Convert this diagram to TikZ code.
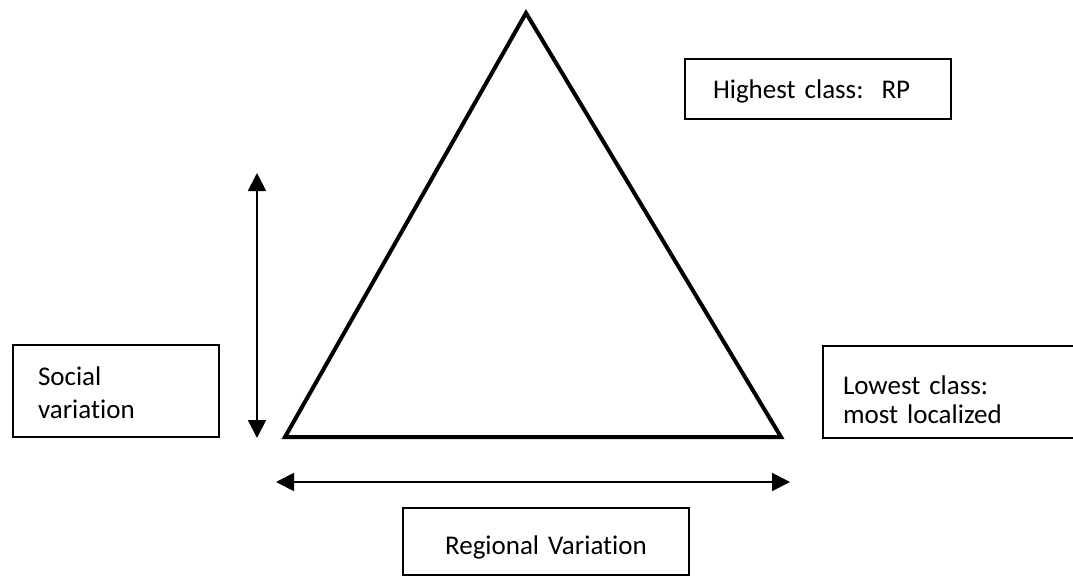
\documentclass[tikz,border=0pt]{standalone}
\usepackage{fontspec}
\setmainfont[RawFeature={-liga;-clig}]{Carlito}
\usetikzlibrary{arrows.meta}
\frenchspacing
\tikzset{
  lbox/.style={draw=black, line width=2pt, inner ysep=0pt, align=left,
    font=\fontsize{27}{33}\selectfont, anchor=north west},
  varrow/.style={line width=1.8pt, {Triangle[length=18pt,width=18pt]}-{Triangle[length=18pt,width=18pt]}},
  tri/.style={line width=4pt, line join=miter}
}
\begin{document}
\begin{tikzpicture}[x=1pt,y=-1pt]
\useasboundingbox (0,0) rectangle (1073,576);
\clip (0,0) rectangle (1073,576);
% triangle
\coordinate (apex) at (526,13);
\coordinate (bl) at (285,437);
\coordinate (br) at (781,437);
\draw[tri] (bl) -- (apex) -- (br) -- cycle;
% boxes
\node[lbox, minimum width=266pt, minimum height=60pt, inner xsep=28pt, text width=210pt] (high) at (684,58)
  {\raisebox{-9pt}[0pt][0pt]{Highest class:\ \ RP}};
\node[lbox, minimum width=206pt, minimum height=92pt, inner xsep=25pt, text width=156pt] (social) at (12,344)
  {\raisebox{6pt}[0pt][0pt]{\parbox[t]{156pt}{\fontsize{27}{33}\selectfont Social\\variation}}};
\node[lbox, minimum width=270pt, minimum height=92pt, inner xsep=20pt, text width=230pt] (low) at (822,345)
  {\raisebox{-2pt}[0pt][0pt]{\parbox[t]{230pt}{\fontsize{27}{29.5}\selectfont Lowest class:\\most localized}}};
\node[lbox, minimum width=286pt, minimum height=67pt, inner xsep=10pt, text width=266pt, align=center] (reg) at (402,507)
  {\raisebox{-12.5pt}[0pt][0pt]{Regional Variation}};
% arrows
\coordinate (vt) at (257,173);
\coordinate (vb) at (257,438);
\draw[varrow] (vt) -- (vb);
\coordinate (hl) at (276,482);
\coordinate (hr) at (790,482);
\draw[varrow] (hl) -- (hr);
\end{tikzpicture}
\end{document}
